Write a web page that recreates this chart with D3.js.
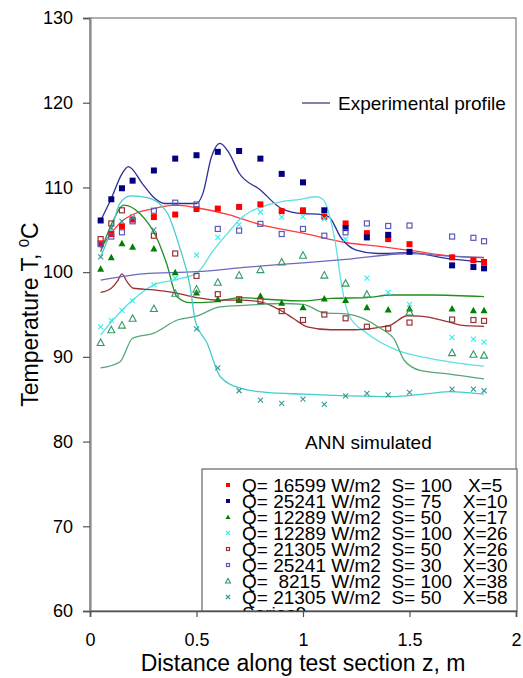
<!DOCTYPE html>
<html>
<head>
<meta charset="utf-8">
<script src="https://cdn.jsdelivr.net/npm/d3@7/dist/d3.min.js"></script>
<style>
html,body{margin:0;padding:0;background:#fff;}
svg text{font-family:"Liberation Sans",Arial,sans-serif;fill:#000;}
</style>
</head>
<body>
<svg id="chart" width="523" height="678"></svg>
<script>
// ---------- data ----------
const zPts = [0.05,0.1,0.15,0.2,0.3,0.4,0.5,0.6,0.7,0.8,0.9,1.0,1.1,1.2,1.3,1.4,1.5,1.7,1.8,1.85];
const tX5   = [103.4,104.5,105.4,106.2,106.5,106.8,107.45,107.5,107.7,108.0,107.2,107.3,106.55,105.75,104.6,103.9,103.3,101.75,101.4,101.2];
const tX10  = [106.1,108.6,109.9,110.8,112.0,113.4,113.8,114.2,114.3,113.4,111.6,110.6,107.3,105.2,104.1,104.4,102.4,100.8,100.6,100.45];
const tX17  = [100.4,101.75,103.4,103.0,102.8,100.0,97.6,96.8,96.7,97.2,96.4,95.85,96.9,96.7,95.85,95.6,95.7,95.7,95.5,95.5];
const tX26a = [93.55,94.3,95.5,96.6,98.5,99.3,102.0,104.1,105.6,107.1,106.5,106.55,106.3,103.9,99.3,97.6,96.2,92.3,92.1,91.75];
const tX26b = [103.9,105.75,107.3,null,104.3,102.2,99.55,97.4,96.8,96.6,95.4,94.35,95.0,94.55,93.55,93.35,94.05,94.4,94.35,94.25];
const tX30  = [103.3,104.2,104.7,106.0,107.25,108.2,108.0,105.1,104.9,105.7,104.5,105.1,104.3,104.7,105.75,105.45,105.5,104.2,104.05,103.65];
const tX38  = [91.7,93.2,93.75,94.55,95.7,97.5,98.0,98.8,99.65,100.3,101.2,102.0,99.65,98.7,97.4,null,95.3,90.5,90.3,90.2];
const tX58  = [101.8,105.2,106.0,106.5,105.0,null,93.3,88.7,86.0,84.9,84.5,85.0,84.4,85.4,85.7,85.5,85.8,86.2,86.2,86.0];

// simulated profiles
const lineX10Z = [0.05,0.1,0.15,0.18,0.25,0.3,0.35,0.4,0.5,0.53,0.57,0.61,0.65,0.7,0.8,0.9,1.0,1.07,1.12,1.18,1.25,1.35,1.5,1.68,1.85];
const lineX10T = [106.1,108.7,111.6,112.45,110.3,108.8,108.1,108.1,108.1,109.3,113.6,115.2,114.2,111.7,109.7,107.5,106.9,106.85,106.55,104.0,102.6,102.2,102.3,101.6,101.2];
const lineX5Z  = [0.05,0.1,0.15,0.2,0.3,0.4,0.5,0.65,0.8,1.0,1.2,1.37,1.52,1.7,1.85];
const lineX5T  = [102.8,104.6,106.0,106.8,107.5,107.9,107.6,106.8,105.6,104.6,103.5,103.0,102.5,101.9,101.7];
const lineX17Z = [0.05,0.11,0.157,0.235,0.31,0.36,0.408,0.47,0.58,0.71,0.83,1.0,1.13,1.3,1.41,1.6,1.85];
const lineX17T = [102.4,106.15,107.9,106.9,104.2,101.0,97.1,96.4,96.5,97.0,96.8,96.6,96.9,97.0,97.3,97.3,97.1];
const lineX26aZ = [0.05,0.15,0.2,0.3,0.4,0.5,0.58,0.66,0.7,0.83,0.894,0.988,1.066,1.097,1.13,1.16,1.175,1.22,1.3,1.44,1.6,1.85];
const lineX26aT = [92.6,95.5,96.7,98.5,99.1,99.85,102.6,105.0,106.15,107.9,108.3,108.6,108.9,108.5,106.15,102.2,99.45,94.7,92.8,90.8,89.8,88.9];
const lineX26bZ = [0.05,0.1,0.128,0.15,0.173,0.204,0.3,0.39,0.5,0.61,0.7,0.8,0.894,0.957,1.02,1.13,1.24,1.35,1.41,1.49,1.55,1.68,1.74,1.85];
const lineX26bT = [97.6,98.1,98.9,99.8,98.9,98.1,97.9,97.6,97.0,96.7,96.7,96.5,95.5,94.5,93.55,93.2,93.2,93.45,93.75,94.85,94.8,94.15,93.75,93.6];
const lineX30Z = [0.05,0.25,0.5,0.74,1.0,1.2,1.5,1.68,1.85];
const lineX30T = [99.05,99.8,100.05,100.6,101.1,101.5,102.2,101.9,101.75];
const lineX38Z = [0.05,0.14,0.2,0.3,0.41,0.5,0.61,0.74,0.9,1.0,1.1,1.21,1.365,1.43,1.475,1.55,1.68,1.85];
const lineX38T = [88.7,89.4,92.2,92.8,94.35,94.8,95.9,96.1,96.3,96.2,95.2,95.05,93.35,92.0,89.6,88.4,88.0,87.4];
const lineX58Z = [0.05,0.1,0.14,0.19,0.27,0.36,0.42,0.47,0.494,0.55,0.612,0.706,0.83,1.0,1.21,1.41,1.6,1.69,1.85];
const lineX58T = [101.8,105.0,108.1,109.0,108.8,107.1,103.0,98.3,94.3,91.6,87.65,86.3,85.8,85.6,85.4,85.3,85.7,85.9,85.6];

const legendLabels = [
  "Q= 16599 W/m2  S= 100   X=5",
  "Q= 25241 W/m2  S= 75    X=10",
  "Q= 12289 W/m2  S= 50    X=17",
  "Q= 12289 W/m2  S= 100  X=26",
  "Q= 21305 W/m2  S= 50    X=26",
  "Q= 25241 W/m2  S= 30    X=30",
  "Q=  8215  W/m2  S= 100  X=38",
  "Q= 21305 W/m2  S= 50    X=58",
  "Series9"
];
const yTicks = [60,70,80,90,100,110,120,130];
const xTicks = [0,0.5,1,1.5,2];
const xTickLabels = ["0","0.5","1","1.5","2"];

// ---------- styles ----------
const series = [
  {t:tX5,   shape:"sq",  fill:"#ff0000", stroke:"none",    lineZ:lineX5Z,  lineT:lineX5T,  lc:"#ff3b3b"},
  {t:tX10,  shape:"sq",  fill:"#000080", stroke:"none",    lineZ:lineX10Z, lineT:lineX10T, lc:"#2e2e99"},
  {t:tX17,  shape:"tri", fill:"#008000", stroke:"none",    lineZ:lineX17Z, lineT:lineX17T, lc:"#1f8f1f"},
  {t:tX26a, shape:"x",   fill:"none",    stroke:"#33eeee", lineZ:lineX26aZ,lineT:lineX26aT,lc:"#5ee0e0"},
  {t:tX26b, shape:"osq", fill:"#fff",    stroke:"#993333", lineZ:lineX26bZ,lineT:lineX26bT,lc:"#993333"},
  {t:tX30,  shape:"osq", fill:"#fff",    stroke:"#5a5ab8", lineZ:lineX30Z, lineT:lineX30T, lc:"#6a6abf"},
  {t:tX38,  shape:"otri",fill:"#fff",    stroke:"#339966", lineZ:lineX38Z, lineT:lineX38T, lc:"#55a677"},
  {t:tX58,  shape:"x",   fill:"none",    stroke:"#339999", lineZ:lineX58Z, lineT:lineX58T, lc:"#44cccc"}
];

const svg = d3.select("#chart");
const W = 523, H = 678;
const plot = {l:90, r:516, t:18, b:611};
const x = d3.scaleLinear().domain([0,2]).range([plot.l, plot.r]);
const y = d3.scaleLinear().domain([60,130]).range([plot.b, plot.t]);

// frame
svg.append("rect").attr("x",plot.l).attr("y",plot.t).attr("width",plot.r-plot.l).attr("height",plot.b-plot.t)
  .attr("fill","#fff").attr("stroke","#606060").attr("stroke-width",1);

// curves
const lineGen = d3.line().x(d=>x(d[0])).y(d=>y(d[1])).curve(d3.curveMonotoneX);
const gLines = svg.append("g");
series.forEach(s=>{
  const pts = s.lineZ.map((z,i)=>[z,s.lineT[i]]);
  gLines.append("path").attr("d",lineGen(pts)).attr("fill","none")
    .attr("stroke",s.lc).attr("stroke-width",1.3);
});

// markers
function drawMarker(g, shape, cx, cy, sz, s){
  if(shape==="sq"){
    g.append("rect").attr("x",cx-sz/2).attr("y",cy-sz/2).attr("width",sz).attr("height",sz).attr("fill",s.fill);
  } else if(shape==="osq"){
    g.append("rect").attr("x",cx-sz/2+0.5).attr("y",cy-sz/2+0.5).attr("width",sz-1).attr("height",sz-1)
      .attr("fill","none").attr("stroke",s.stroke).attr("stroke-width",1.2);
  } else if(shape==="tri"||shape==="otri"){
    const h = sz;
    const p = [[cx,cy-h/2-0.5],[cx+sz/2+0.5,cy+h/2],[cx-sz/2-0.5,cy+h/2]];
    g.append("path").attr("d","M"+p.map(q=>q.join(",")).join("L")+"Z")
      .attr("fill",shape==="tri"?s.fill:"none")
      .attr("stroke",shape==="tri"?"none":s.stroke).attr("stroke-width",1.1);
  } else if(shape==="x"){
    const r = sz/2;
    g.append("path").attr("d",`M${cx-r},${cy-r}L${cx+r},${cy+r}M${cx-r},${cy+r}L${cx+r},${cy-r}`)
      .attr("stroke",s.stroke).attr("stroke-width",1.1).attr("fill","none");
  }
}
const gMarks = svg.append("g");
series.forEach(s=>{
  s.t.forEach((v,i)=>{
    if(v==null) return;
    drawMarker(gMarks, s.shape, x(zPts[i]), y(v), s.shape==="x"?5:6, s);
  });
});

// axes
const yAxis = d3.axisLeft(y).tickValues(yTicks).tickSize(7).tickPadding(10).tickFormat(d3.format("d"));
const gy = svg.append("g").attr("transform",`translate(${plot.l},0)`).call(yAxis);
gy.select(".domain").attr("stroke","#8a8a8a").attr("stroke-width",2.2);
gy.selectAll(".tick line").attr("stroke","#555").attr("stroke-width",1.2);
gy.selectAll(".tick text").attr("font-size",18).attr("fill","#000")
  .style("font-family","'Liberation Sans',Arial,sans-serif");

// ANN simulated text
svg.append("text").attr("x",305).attr("y",449).attr("font-size",19).text("ANN simulated");

// experimental profile legend
svg.append("line").attr("x1",302).attr("x2",330).attr("y1",103).attr("y2",103).attr("stroke","#303070").attr("stroke-width",1.2);
svg.append("text").attr("x",338).attr("y",109.5).attr("font-size",19).text("Experimental profile");

// legend box
const lg = {x:202, y:469, w:315, h:142};
svg.append("clipPath").attr("id","lgclip").append("rect").attr("x",lg.x).attr("y",lg.y).attr("width",lg.w).attr("height",lg.h);
svg.append("rect").attr("x",lg.x).attr("y",lg.y).attr("width",lg.w).attr("height",lg.h)
  .attr("fill","#fff").attr("stroke","#707070").attr("stroke-width",1.3);
const gLeg = svg.append("g").attr("clip-path","url(#lgclip)");
legendLabels.forEach((lab,i)=>{
  const cy = 485 + i*16;
  if(i<series.length) drawMarker(gLeg, series[i].shape, 228, cy, 4, series[i]);
  gLeg.append("text").attr("x",242).attr("y",cy+6.5).attr("font-size",19)
    .attr("xml:space","preserve").style("white-space","pre").text(lab);
});

// x axis
const xAxis = d3.axisBottom(x).tickValues(xTicks).tickSize(6).tickPadding(16).tickFormat((d,i)=>xTickLabels[i]);
const gx = svg.append("g").attr("transform",`translate(0,${plot.b})`).call(xAxis);
gx.select(".domain").attr("stroke","#505050").attr("stroke-width",1.6);
gx.selectAll(".tick line").attr("stroke","#505050").attr("stroke-width",1.2);
gx.selectAll(".tick text").attr("font-size",18).attr("fill","#000")
  .style("font-family","'Liberation Sans',Arial,sans-serif");

// axis titles
svg.append("text").attr("x",(plot.l+plot.r)/2).attr("y",671).attr("text-anchor","middle")
  .attr("font-size",23).text("Distance along test section z, m");
const yt = svg.append("text").attr("transform",`translate(38,${(plot.t+plot.b)/2}) rotate(-90)`)
  .attr("text-anchor","middle").attr("font-size",23);
yt.append("tspan").text("Temperature T, ");
yt.append("tspan").attr("font-size",15).attr("dy",-9).text("0");
yt.append("tspan").attr("dy",9).text("C");
</script>
</body>
</html>
